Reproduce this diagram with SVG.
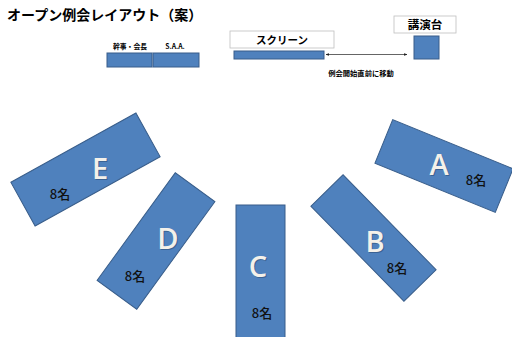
<svg xmlns="http://www.w3.org/2000/svg" width="512" height="337" viewBox="0 0 512 337">
<defs>
<marker id="ah" viewBox="0 0 10 10" refX="9" refY="5" markerWidth="5" markerHeight="5" orient="auto-start-reverse">
<path d="M0,1 L10,5 L0,9 z" fill="#222"/>
</marker>
</defs>
<style>
.blue{fill:#4F81BD;stroke:#385D8A;stroke-width:1}
.lbl{fill:#fff;stroke:#BFBFBF;stroke-width:0.8}
.t{font-family:"Noto Sans CJK JP","Noto Sans",sans-serif;font-weight:bold;fill:#000}
.big{font-family:"Open Sans","Noto Sans",sans-serif;font-size:29px;font-weight:600;fill:#F4F1EA;text-anchor:middle;dominant-baseline:central}
.sh{font-family:"Open Sans","Noto Sans",sans-serif;font-size:29px;font-weight:600;fill:#2E4F78;opacity:0.6;text-anchor:middle;dominant-baseline:central}
.n{font-family:"Noto Sans CJK JP","Noto Sans",sans-serif;font-size:13px;font-weight:500;fill:#111;text-anchor:middle;dominant-baseline:central}
</style>
<rect width="512" height="337" fill="#fff"/>
<text x="7" y="20" class="t" font-size="14">オープン例会レイアウト（案）</text>

<g id="kanji">
<text x="130" y="49" class="t" font-size="6.8" text-anchor="middle">幹事・会長</text>
<rect x="107" y="53" width="45" height="14" class="blue"/>
</g>
<g id="saa">
<text x="175" y="49" class="t" font-size="6.8" text-anchor="middle">S.A.A.</text>
<rect x="153" y="53" width="46" height="14" class="blue"/>
</g>
<g id="screen">
<rect x="230" y="31" width="104" height="17" class="lbl"/>
<text x="282" y="44" class="t" font-size="10.5" text-anchor="middle">スクリーン</text>
<rect x="234" y="51" width="90" height="8" class="blue"/>
</g>
<g id="podium">
<rect x="394" y="16" width="62" height="17" class="lbl"/>
<text x="425" y="29" class="t" font-size="11.5" text-anchor="middle">講演台</text>
<rect x="414" y="36" width="25" height="23" class="blue"/>
</g>
<g id="connectors">
<line x1="326" y1="54.5" x2="407" y2="54.5" stroke="#222" stroke-width="0.7" marker-start="url(#ah)" marker-end="url(#ah)"/>
</g>
<text x="361" y="76" class="t" font-size="7.3" text-anchor="middle">例会開始直前に移動</text>

<g id="E">
<rect x="-71.5" y="-25" width="143" height="50" class="blue" transform="translate(85.5,169.5) rotate(-29)"/>
<text x="101" y="168" class="sh">E</text>
<text x="100" y="167" class="big">E</text>
<text x="60" y="193" class="n">8名</text>
</g>
<g id="D">
<rect x="-66.5" y="-24.5" width="133" height="49" class="blue" transform="translate(156,241) rotate(-54)"/>
<text x="169" y="238" class="sh">D</text>
<text x="168" y="237" class="big">D</text>
<text x="135" y="275" class="n">8名</text>
</g>
<g id="C">
<rect x="236" y="205" width="49" height="140" class="blue"/>
<text x="259" y="266" class="sh">C</text>
<text x="258" y="265" class="big">C</text>
<text x="262" y="312" class="n">8名</text>
</g>
<g id="B">
<rect x="-66.5" y="-22.5" width="133" height="45" class="blue" transform="translate(373.5,238) rotate(45.6)"/>
<text x="376" y="241" class="sh">B</text>
<text x="375" y="240" class="big">B</text>
<text x="397" y="267" class="n">8名</text>
</g>
<g id="A">
<rect x="-65" y="-23.5" width="130" height="47" class="blue" transform="translate(444,166) rotate(22.2)"/>
<text x="440" y="164" class="sh">A</text>
<text x="439" y="163" class="big">A</text>
<text x="476" y="179" class="n">8名</text>
</g>
</svg>
